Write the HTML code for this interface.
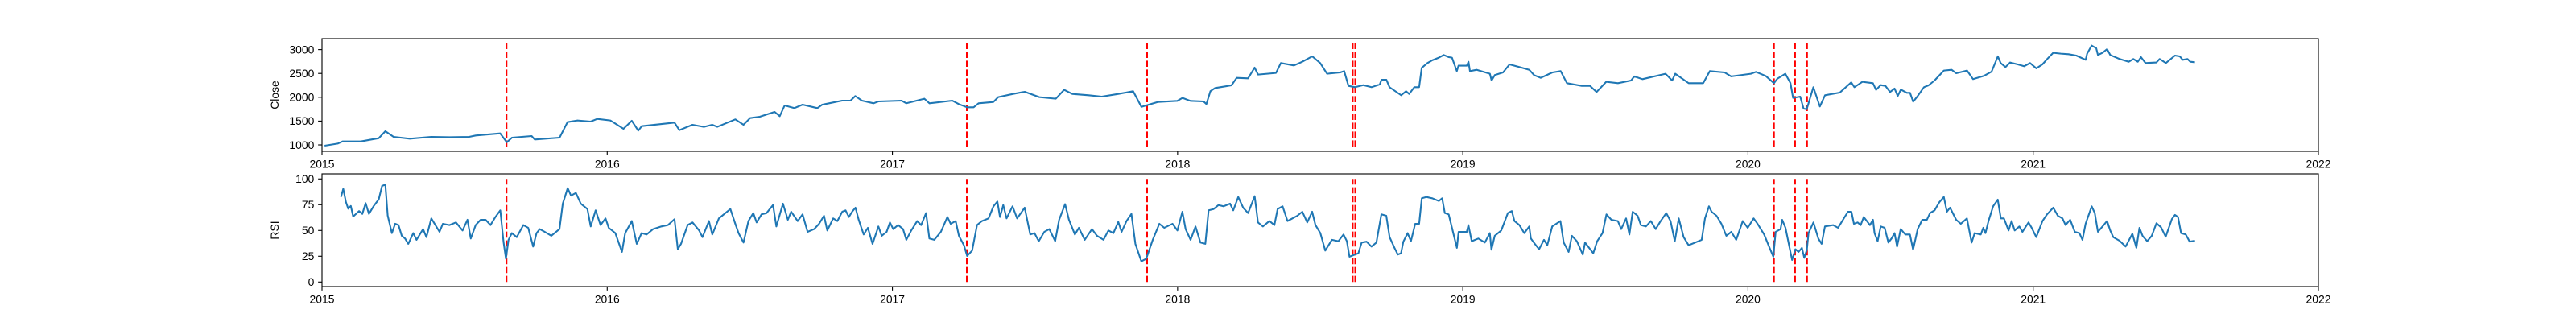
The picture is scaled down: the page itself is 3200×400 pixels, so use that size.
<!DOCTYPE html>
<html><head><meta charset="utf-8"><style>
html,body{margin:0;padding:0;background:#fff;}
svg{display:block;font-family:"Liberation Sans","DejaVu Sans",sans-serif;}
</style></head><body>
<svg id="fig" width="3200" height="400" viewBox="0 0 3200 400" xmlns="http://www.w3.org/2000/svg">
<rect x="0" y="0" width="3200" height="400" fill="#fff"/>
<g id="top"></g>
<g id="bot"></g>
</svg>
<script>
// time in years since 2015-01-01
const closeT=[0.009,0.055,0.072,0.136,0.199,0.222,0.251,0.308,0.383,0.447,0.516,0.539,0.625,0.648,0.666,0.735,0.746,0.833,0.861,0.896,0.942,0.965,1.011,1.057,1.086,1.109,1.121,1.236,1.253,1.299,1.339,1.368,1.386,1.449,1.478,1.501,1.535,1.587,1.605,1.622,1.656,1.685,1.737,1.754,1.778,1.824,1.853,1.870,1.893,1.934,1.951,2.032,2.049,2.112,2.130,2.210,2.233,2.262,2.285,2.302,2.354,2.371,2.423,2.464,2.515,2.573,2.602,2.631,2.688,2.734,2.792,2.844,2.873,2.930,2.999,3.017,3.045,3.091,3.101,3.115,3.132,3.189,3.207,3.247,3.270,3.282,3.345,3.362,3.408,3.437,3.472,3.500,3.524,3.570,3.584,3.599,3.622,3.651,3.680,3.709,3.715,3.732,3.743,3.784,3.801,3.812,3.830,3.847,3.856,3.876,3.893,3.916,3.933,3.951,3.962,3.979,3.985,4.014,4.020,4.025,4.049,4.095,4.101,4.112,4.141,4.164,4.198,4.233,4.250,4.273,4.314,4.343,4.365,4.417,4.446,4.469,4.503,4.544,4.590,4.601,4.630,4.711,4.734,4.745,4.792,4.843,4.866,4.918,4.941,5.010,5.028,5.062,5.091,5.103,5.131,5.149,5.158,5.183,5.195,5.206,5.229,5.252,5.270,5.322,5.362,5.373,5.401,5.438,5.449,5.465,5.482,5.498,5.514,5.525,5.536,5.557,5.568,5.579,5.595,5.617,5.633,5.654,5.687,5.714,5.730,5.768,5.789,5.827,5.854,5.876,5.886,5.903,5.919,5.946,5.968,5.989,6.011,6.032,6.049,6.070,6.097,6.124,6.151,6.184,6.189,6.205,6.221,6.227,6.243,6.259,6.270,6.303,6.335,6.351,6.367,6.378,6.394,6.432,6.443,6.465,6.497,6.514,6.524,6.541,6.551,6.567];
const closeV=[983,1028,1073,1073,1141,1287,1169,1130,1169,1163,1169,1197,1242,1056,1152,1186,1113,1152,1479,1513,1490,1546,1513,1338,1507,1299,1394,1468,1310,1423,1378,1423,1378,1535,1423,1563,1592,1693,1603,1828,1772,1845,1772,1845,1873,1929,1929,2025,1929,1873,1912,1929,1873,1969,1873,1929,1856,1789,1789,1873,1901,2003,2070,2115,2003,1969,2155,2070,2042,2014,2070,2127,1800,1901,1924,1986,1924,1912,1856,2127,2194,2251,2408,2397,2622,2476,2510,2718,2667,2746,2859,2718,2493,2521,2549,2239,2211,2256,2211,2268,2369,2369,2211,2042,2127,2070,2211,2211,2617,2718,2775,2831,2887,2842,2831,2549,2662,2662,2746,2549,2577,2493,2352,2465,2521,2690,2634,2577,2465,2408,2521,2549,2296,2239,2239,2110,2324,2296,2352,2437,2380,2493,2352,2493,2296,2296,2549,2521,2437,2493,2532,2448,2296,2391,2493,2296,1986,2014,1760,1749,2211,1806,2042,2098,2312,2211,2324,2296,2155,2256,2239,2110,2183,2025,2160,2093,2093,1907,2025,2211,2251,2352,2561,2577,2504,2561,2380,2448,2538,2859,2718,2634,2730,2690,2651,2718,2606,2690,2803,2932,2915,2904,2876,2786,2915,3085,3029,2887,2932,3011,2887,2803,2746,2803,2746,2842,2718,2730,2803,2718,2876,2859,2786,2803,2746,2735];
const rsiT=[0.0665,0.0746,0.0838,0.0919,0.1011,0.1092,0.1299,0.1414,0.1530,0.1645,0.1818,0.1990,0.2106,0.2221,0.2302,0.2451,0.2567,0.2682,0.2797,0.2912,0.3027,0.3200,0.3315,0.3546,0.3661,0.3834,0.4122,0.4237,0.4467,0.4698,0.4928,0.5101,0.5216,0.5389,0.5562,0.5735,0.5907,0.6080,0.6253,0.6368,0.6449,0.6541,0.6656,0.6829,0.7060,0.7232,0.7405,0.7521,0.7636,0.7809,0.8039,0.8327,0.8442,0.8615,0.8730,0.8903,0.9076,0.9307,0.9422,0.9594,0.9767,0.9940,1.0055,1.0286,1.0401,1.0516,1.0631,1.0862,1.1035,1.1207,1.1380,1.1610,1.1899,1.2129,1.2360,1.2475,1.2590,1.2820,1.2993,1.3224,1.3339,1.3569,1.3684,1.3915,1.4145,1.4318,1.4491,1.4606,1.4779,1.4952,1.5124,1.5240,1.5412,1.5585,1.5816,1.5931,1.6161,1.6334,1.6449,1.6680,1.6852,1.7025,1.7256,1.7429,1.7601,1.7717,1.7924,1.8070,1.8243,1.8358,1.8473,1.8588,1.8704,1.8819,1.8992,1.9141,1.9303,1.9510,1.9625,1.9798,1.9913,2.0029,2.0201,2.0374,2.0489,2.0662,2.0870,2.1008,2.1181,2.1296,2.1469,2.1699,2.1930,2.2045,2.2218,2.2333,2.2506,2.2621,2.2794,2.2966,2.3139,2.3370,2.3543,2.3681,2.3773,2.3888,2.4003,2.4211,2.4372,2.4637,2.4833,2.4983,2.5132,2.5328,2.5501,2.5709,2.5847,2.6054,2.6192,2.6400,2.6538,2.6745,2.6999,2.7172,2.7402,2.7575,2.7748,2.7921,2.8036,2.8209,2.8382,2.8520,2.8727,2.8900,2.9130,2.9360,2.9533,2.9821,2.9994,3.0167,3.0282,3.0455,3.0628,3.0801,3.0973,3.1089,3.1262,3.1435,3.1607,3.1838,3.1953,3.2126,3.2299,3.2471,3.2702,3.2817,3.2990,3.3220,3.3393,3.3508,3.3681,3.3854,3.4026,3.4199,3.4372,3.4545,3.4718,3.4833,3.5006,3.5179,3.5409,3.5639,3.5819,3.5934,3.6027,3.6222,3.6338,3.6453,3.6626,3.6798,3.6971,3.7144,3.7317,3.7432,3.7605,3.7720,3.7835,3.7916,3.8066,3.8181,3.8331,3.8469,3.8561,3.8722,3.8930,3.9160,3.9275,3.9368,3.9506,3.9621,3.9794,3.9852,4.0140,4.0197,4.0312,4.0543,4.0773,4.0946,4.1004,4.1119,4.1349,4.1580,4.1718,4.1810,4.1983,4.2156,4.2329,4.2386,4.2524,4.2674,4.2847,4.2962,4.3135,4.3423,4.3538,4.3711,4.3826,4.3999,4.4206,4.4287,4.4575,4.4713,4.4898,4.5036,4.5209,4.5439,4.5554,4.5727,4.5842,4.5958,4.6130,4.6246,4.6419,4.6591,4.6764,4.6937,4.7133,4.7283,4.7433,4.7571,4.7744,4.7917,4.8147,4.8377,4.8492,4.8631,4.8723,4.8896,4.9068,4.9241,4.9414,4.9587,4.9817,4.9990,5.0197,5.0335,5.0566,5.0739,5.0889,5.0969,5.1142,5.1200,5.1315,5.1545,5.1661,5.1776,5.1891,5.1972,5.2064,5.2122,5.2295,5.2467,5.2583,5.2698,5.2986,5.3159,5.3274,5.3504,5.3627,5.3713,5.3843,5.3951,5.4059,5.4167,5.4275,5.4383,5.4437,5.4545,5.4653,5.4793,5.4923,5.5031,5.5139,5.5226,5.5355,5.5517,5.5679,5.5787,5.5949,5.6111,5.6273,5.6381,5.6543,5.6705,5.6867,5.6975,5.7083,5.7299,5.7461,5.7677,5.7839,5.7947,5.8163,5.8250,5.8325,5.8433,5.8595,5.8757,5.8865,5.8973,5.9135,5.9243,5.9351,5.9513,5.9621,5.9837,5.9945,6.0108,6.0324,6.0486,6.0702,6.0864,6.1026,6.1134,6.1296,6.1458,6.1620,6.1728,6.1836,6.2052,6.2160,6.2268,6.2430,6.2592,6.2700,6.2808,6.3024,6.3240,6.3478,6.3618,6.3726,6.3834,6.3996,6.4158,6.4320,6.4483,6.4645,6.4861,6.4969,6.5077,6.5185,6.5347,6.5487,6.5671];
const rsiV=[82.6,90.4,77.7,71.1,73.7,63.5,68.8,66.1,76.5,66.1,73.9,80.2,93.2,94.5,64.5,47.4,56.5,55.2,44.8,42.2,37.0,47.4,40.9,51.3,43.5,61.7,48.7,56.5,55.2,57.8,50.0,60.4,42.2,55.2,60.4,60.4,55.2,63.0,69.5,38.3,22.6,40.9,47.4,43.5,55.2,52.6,34.4,47.4,51.3,48.7,44.8,51.3,76.0,91.1,83.8,86.4,76.0,70.8,53.9,69.5,55.2,61.7,52.6,47.4,38.3,29.2,47.4,59.1,37.0,47.4,46.1,51.3,53.9,55.2,60.9,31.8,37.0,55.2,57.8,50.0,43.5,59.1,46.1,61.7,66.9,70.8,56.5,47.4,38.3,59.1,66.9,57.8,65.6,66.9,74.7,53.9,76.0,60.4,68.2,59.1,65.6,48.7,51.3,56.5,64.3,50.0,61.7,59.1,68.2,69.5,63.0,68.2,72.1,60.4,46.1,52.6,37.0,53.9,44.8,48.7,57.8,51.3,55.2,51.3,40.9,50.0,59.1,55.2,66.9,42.2,40.9,48.7,63.0,56.5,59.1,44.8,35.7,25.3,30.5,55.2,59.1,61.7,73.4,78.1,63.0,74.7,61.7,73.4,61.7,72.1,46.1,47.4,39.6,48.7,51.3,39.6,60.4,75.5,60.4,46.1,52.6,40.9,51.3,44.8,40.9,50.0,47.4,58.3,48.7,59.1,66.1,37.0,20.1,22.6,40.9,56.5,52.6,56.5,50.0,68.2,51.3,40.9,53.9,38.3,37.0,69.5,70.8,74.7,73.4,76.0,69.5,82.5,72.1,66.9,83.3,57.8,53.9,59.1,55.2,70.8,73.4,59.1,61.7,64.3,68.2,57.8,68.2,55.2,47.4,30.5,40.9,39.6,46.1,39.6,24.5,26.6,27.9,38.3,39.1,34.4,38.3,65.6,64.3,43.5,33.1,26.6,27.9,39.1,47.4,39.6,56.5,56.5,81.2,82.5,81.2,78.6,81.2,66.9,65.6,52.6,33.1,48.7,48.7,55.2,39.6,42.2,38.3,47.4,31.3,44.8,50.0,66.9,68.8,59.1,55.2,47.4,53.9,42.2,37.0,31.8,40.9,35.7,53.9,59.1,38.3,29.2,44.8,39.6,26.6,38.3,27.9,39.6,47.4,65.6,60.4,59.1,51.3,61.7,46.1,68.2,64.3,55.2,53.9,59.1,51.3,59.1,66.9,59.1,39.6,61.7,43.5,35.7,38.3,40.9,61.7,73.4,68.2,64.3,56.5,44.8,48.7,40.9,59.1,52.6,61.7,56.5,46.1,34.4,24.5,48.7,51.3,60.4,52.6,21.4,31.8,29.2,33.1,23.4,31.3,47.4,57.8,42.2,37.0,53.9,55.2,52.6,57.8,68.2,68.2,56.5,57.8,55.2,63.0,59.1,55.2,60.4,47.4,39.6,53.9,52.6,38.3,42.2,47.4,34.4,51.3,46.1,46.1,31.3,51.3,60.4,60.4,66.9,69.5,77.3,82.5,68.2,72.1,60.4,56.5,61.7,38.3,47.4,46.1,52.6,47.4,59.1,73.4,79.9,61.7,61.7,50.0,59.1,50.0,53.9,48.7,57.8,52.6,43.5,59.1,65.6,72.1,64.3,61.7,55.2,60.4,48.7,47.4,40.9,56.5,73.4,66.9,48.7,53.9,59.1,50.0,43.5,40.1,34.4,46.9,33.1,52.6,44.8,39.6,44.8,57.0,53.1,43.9,60.9,65.1,63.0,47.4,46.1,39.1,40.1];
const eventT=[0.647,2.261,2.893,3.614,3.623,5.091,5.165,5.207];
const xTickLabels=["2015","2016","2017","2018","2019","2020","2021","2022"];
const closeTicks=[1000,1500,2000,2500,3000];
const rsiTicks=[0,25,50,75,100];
const closeEventRange=[966,3130];
const rsiEventRange=[0,100];

const NS="http://www.w3.org/2000/svg";
const AX={left:400,right:2880};
const xMin=0,xMax=7;
function xs(t){return AX.left+(t-xMin)/(xMax-xMin)*(AX.right-AX.left);}
function mk(tag,attrs,parent){const e=document.createElementNS(NS,tag);for(const k in attrs)e.setAttribute(k,attrs[k]);parent.appendChild(e);return e;}

function panel(g,top,bottom,yMin,yMax,ticks,T,V,evRange,label,pfx){
  const ys=v=>bottom-(v-yMin)/(yMax-yMin)*(bottom-top);
  // events
  eventT.forEach((t,i)=>{
    const l=mk('line',{x1:xs(t),x2:xs(t),y1:ys(evRange[0]),y2:ys(evRange[1]),stroke:'#ff0000','stroke-width':2.08,'stroke-dasharray':'7.7 3.3'},g);
    
    
  });
  let d='';
  T.forEach((t,i)=>{d+=(i?'L':'M')+xs(t).toFixed(1)+' '+ys(V[i]).toFixed(1);});
  const p=mk('path',{d:d,fill:'none',stroke:'#1f77b4','stroke-width':2.08,'stroke-linejoin':'round'},g);
  
  
  const r=mk('rect',{x:AX.left,y:top,width:AX.right-AX.left,height:bottom-top,fill:'none',stroke:'#000','stroke-width':1.11},g);
  
  
  ticks.forEach(v=>{
    const y=ys(v);
    const tk=mk('line',{x1:AX.left-4.86,x2:AX.left,y1:y,y2:y,stroke:'#000','stroke-width':1.11},g);
    
    
    const tx=mk('text',{x:AX.left-9.7,y:y+4.8,'text-anchor':'end','font-size':13.9,fill:'#000'},g);
    tx.textContent=String(v);
    
    
  });
  xTickLabels.forEach((s,i)=>{
    const x=xs(i);
    const tk=mk('line',{x1:x,x2:x,y1:bottom,y2:bottom+4.86,stroke:'#000','stroke-width':1.11},g);
    
    
    const tx=mk('text',{x:x,y:bottom+20.5,'text-anchor':'middle','font-size':13.9,fill:'#000'},g);
    tx.textContent=s;
    
    
  });
  const cy=(top+bottom)/2;
  const yl=mk('text',{x:0,y:0,transform:'translate(346 '+cy+') rotate(-90)','text-anchor':'middle','font-size':13.9,fill:'#000'},g);
  yl.textContent=label;
  
  
}
panel(document.getElementById('top'),48,188,865,3230,closeTicks,closeT,closeV,closeEventRange,'Close','close');
panel(document.getElementById('bot'),216,356,-4.45,104.9,rsiTicks,rsiT,rsiV,rsiEventRange,'RSI','rsi');
</script>
</body></html>
